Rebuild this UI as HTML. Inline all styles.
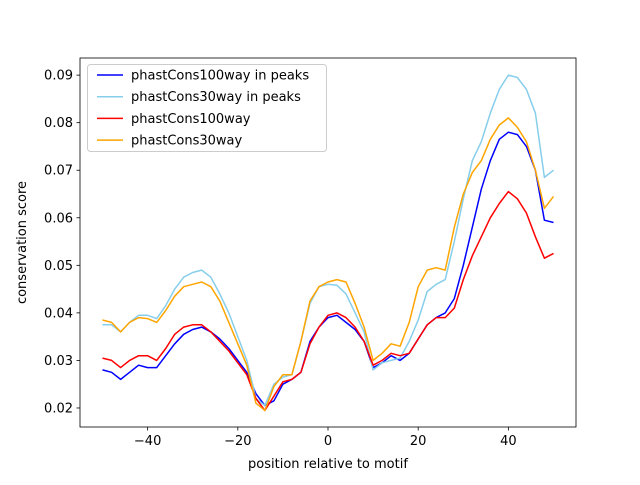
<!DOCTYPE html>
<html><head><meta charset="utf-8"><style>
body{margin:0;background:#fff;}
svg text{font-family:"DejaVu Sans","Liberation Sans",sans-serif;font-size:13px;fill:#000;}
</style></head><body>
<svg id="chart" width="640" height="480" xmlns="http://www.w3.org/2000/svg">
<rect width="640" height="480" fill="#fff"/>
<g id="plot"></g>
</svg>
<script>
const positions = [];
for (let x = -50; x <= 50; x += 2) positions.push(x);
const blueValues = [0.028,0.0275,0.026,0.0275,0.029,0.0285,0.0285,0.031,0.0335,0.0355,0.0365,0.037,0.036,0.0345,0.0325,0.030,0.0275,0.023,0.0205,0.0215,0.025,0.026,0.0275,0.034,0.037,0.039,0.0395,0.038,0.0365,0.034,0.0285,0.0295,0.031,0.030,0.0315,0.0345,0.0375,0.039,0.040,0.043,0.050,0.058,0.066,0.072,0.0765,0.078,0.0775,0.075,0.070,0.0595,0.059];
const skyValues = [0.0375,0.0375,0.036,0.038,0.0395,0.0395,0.0388,0.0415,0.045,0.0475,0.0485,0.049,0.0475,0.044,0.040,0.035,0.030,0.022,0.0205,0.025,0.0265,0.027,0.034,0.042,0.0455,0.046,0.0458,0.044,0.040,0.036,0.028,0.0295,0.030,0.0305,0.034,0.0385,0.0445,0.046,0.047,0.055,0.064,0.072,0.076,0.082,0.087,0.090,0.0895,0.087,0.082,0.0685,0.070];
const redValues = [0.0305,0.030,0.0285,0.030,0.031,0.031,0.030,0.0325,0.0355,0.037,0.0375,0.0375,0.036,0.034,0.032,0.0295,0.027,0.022,0.0195,0.0225,0.0255,0.026,0.0275,0.0335,0.037,0.0395,0.040,0.039,0.037,0.034,0.029,0.030,0.0315,0.031,0.0315,0.0345,0.0375,0.039,0.039,0.041,0.047,0.052,0.056,0.060,0.063,0.0655,0.064,0.061,0.056,0.0515,0.0525];
const orangeValues = [0.0385,0.038,0.036,0.038,0.039,0.0388,0.038,0.0405,0.0435,0.0455,0.046,0.0465,0.0455,0.0425,0.038,0.0335,0.029,0.021,0.0195,0.0245,0.027,0.027,0.034,0.0425,0.0455,0.0465,0.047,0.0465,0.042,0.037,0.030,0.0315,0.0335,0.033,0.038,0.0455,0.049,0.0495,0.049,0.058,0.065,0.0695,0.072,0.0765,0.0795,0.081,0.079,0.076,0.070,0.062,0.0645];
const xTicks = [-40,-20,0,20,40];
const xTickLabels = ["\u221240","\u221220","0","20","40"];
const yTicks = [0.02,0.03,0.04,0.05,0.06,0.07,0.08,0.09];
const yTickLabels = ["0.02","0.03","0.04","0.05","0.06","0.07","0.08","0.09"];
const seriesNames = ["phastCons100way in peaks","phastCons30way in peaks","phastCons100way","phastCons30way"];

const L=80,R=576,T=58,B=427, X0=-55,X1=55, Y0=0.016,Y1=0.0936;
const sx=v=>L+(v-X0)/(X1-X0)*(R-L);
const sy=v=>B-(v-Y0)/(Y1-Y0)*(B-T);
const NS="http://www.w3.org/2000/svg";
const g=document.getElementById('plot');
function mk(t,a){const e=document.createElementNS(NS,t);for(const k in a)e.setAttribute(k,a[k]);g.appendChild(e);return e;}

const series=[[blueValues,"#0000ff","blue"],[skyValues,"#87ceeb","sky"],[redValues,"#ff0000","red"],[orangeValues,"#ffa500","orange"]];
series.forEach(([vals,col,n])=>{
  const d=vals.map((v,i)=>(i?'L':'M')+sx(positions[i]).toFixed(1)+','+sy(v).toFixed(1)).join(' ');
  const p=mk('path',{d:d,fill:'none',stroke:col,'stroke-width':1.5,'stroke-linejoin':'round'});
  
  
});
const fr=mk('rect',{x:L,y:T,width:R-L,height:B-T,fill:'none',stroke:'#000','stroke-width':0.8});


xTicks.forEach((t,i)=>{
  const x=sx(t);
  const tk=mk('line',{x1:x,x2:x,y1:B,y2:B+3.5,stroke:'#000','stroke-width':0.8});
  
  
  const tx=mk('text',{x:x,y:B+18,'text-anchor':'middle'});tx.textContent=xTickLabels[i];
  
  
});
yTicks.forEach((t,i)=>{
  const y=sy(t);
  const tk=mk('line',{x1:L-3.5,x2:L,y1:y,y2:y,stroke:'#000','stroke-width':0.8});
  
  
  const tx=mk('text',{x:L-7,y:y+4.5,'text-anchor':'end'});tx.textContent=yTickLabels[i];
  
  
});
const xt=mk('text',{x:(L+R)/2,y:468,'text-anchor':'middle'});xt.textContent='position relative to motif';


const yt=mk('text',{x:0,y:0,'text-anchor':'middle',transform:'translate(26,'+((T+B)/2)+') rotate(-90)'});yt.textContent='conservation score';


const lb=mk('rect',{x:87.5,y:64.5,width:239,height:87,rx:3,fill:'#fff','fill-opacity':0.8,stroke:'#ccc','stroke-width':1});


series.forEach(([v,col],i)=>{
  const y=75+i*21.7;
  const ln=mk('line',{x1:97,x2:123,y1:y,y2:y,stroke:col,'stroke-width':1.5});
  
  
  const tx=mk('text',{x:131,y:y+4.5});tx.textContent=seriesNames[i];
  
  
});
</script>
</body></html>
